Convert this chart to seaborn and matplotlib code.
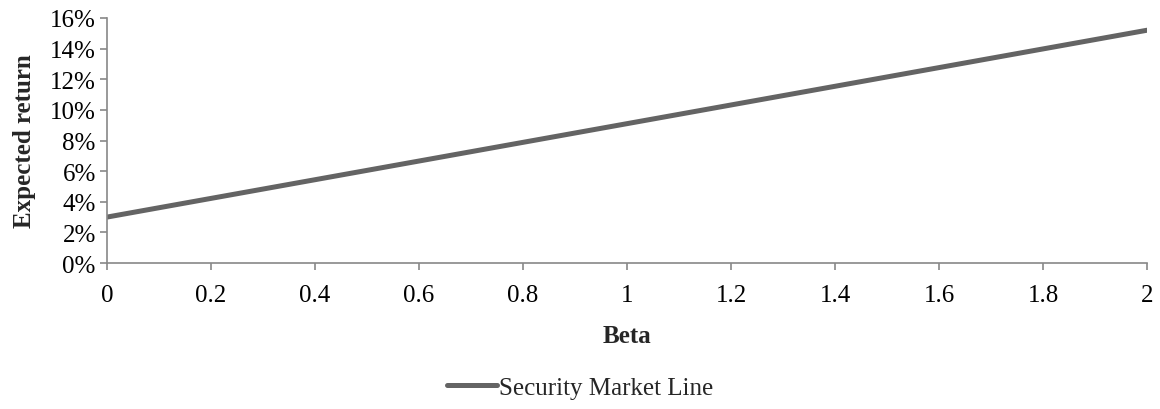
import matplotlib
matplotlib.use("Agg")
import matplotlib.pyplot as plt
from matplotlib.ticker import FuncFormatter, MultipleLocator
import seaborn as sns
import pandas as pd

# Security market line: expected return against beta
beta = [0.0, 0.2, 0.4, 0.6, 0.8, 1.0, 1.2, 1.4, 1.6, 1.8, 2.0]
expected_return = [0.030, 0.0422, 0.0544, 0.0666, 0.0788, 0.091,
                   0.1032, 0.1154, 0.1276, 0.1398, 0.152]
series_name = "Security Market Line"

df = pd.DataFrame({"Beta": beta, "Expected return": expected_return,
                   "series": series_name})

sns.set_style("white")
plt.rcParams["font.family"] = ["Liberation Serif", "DejaVu Serif"]

FS = 18

fig = plt.figure(figsize=(11.6, 4.1), dpi=100)
ax = fig.add_axes([0.0922, 0.356, 0.8966, 0.5977])

sns.lineplot(data=df, x="Beta", y="Expected return", hue="series",
             palette=["#646464"], linewidth=3.6, ax=ax, legend=False)

ax.set_xlim(0, 2)
ax.set_ylim(0, 0.16)
ax.xaxis.set_major_locator(MultipleLocator(0.2))
ax.yaxis.set_major_locator(MultipleLocator(0.02))
ax.xaxis.set_major_formatter(FuncFormatter(lambda v, p: f"{v:g}"))
ax.yaxis.set_major_formatter(FuncFormatter(lambda v, p: f"{v*100:.0f}%"))

for side in ("top", "right"):
    ax.spines[side].set_visible(False)
for side in ("left", "bottom"):
    ax.spines[side].set_color("#888888")
    ax.spines[side].set_linewidth(1.2)

ax.tick_params(axis="both", which="major", direction="out", length=5,
               width=1.2, color="#888888", labelsize=FS, labelcolor="black",
               left=True, bottom=True)
ax.tick_params(axis="x", pad=10)
ax.tick_params(axis="y", pad=3)

ax.set_xlabel("Beta", fontsize=FS, fontweight="bold", labelpad=13)
ax.set_ylabel("Expected return", fontsize=FS, fontweight="bold", labelpad=10)
ax.grid(False)

handle = plt.Line2D([], [], color="#646464", linewidth=3.6,
                    solid_capstyle="round")
fig.legend([handle], [series_name], loc="center", bbox_to_anchor=(0.5, 0.053),
           frameon=False, fontsize=FS, handlelength=2.0, handletextpad=0.1)

fig.savefig("out.png", dpi=100, facecolor="white")
